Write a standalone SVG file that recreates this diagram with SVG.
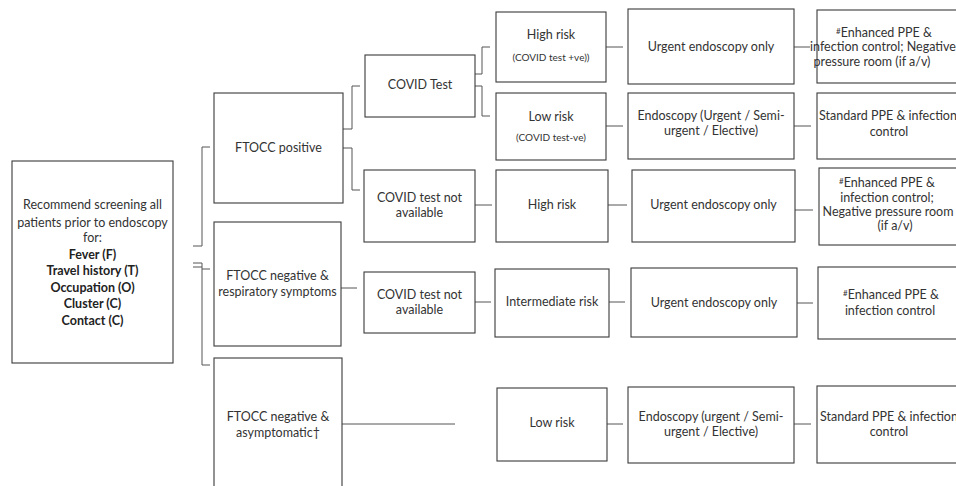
<svg xmlns="http://www.w3.org/2000/svg" width="956" height="486" viewBox="0 0 956 486">
<style>
rect.n{fill:#fff;stroke:#3a3a3a;stroke-width:1.1}
text{font-family:Lato,"Liberation Sans",sans-serif;font-size:12.5px;fill:#333;text-anchor:middle}
text.b{font-weight:bold;fill:#222}
text.s{font-size:10px}
#connectors path{fill:none;stroke:#555;stroke-width:1}
</style>
<rect width="956" height="486" fill="#fff"/>
<g id="connectors">
<path d="M193,246 H202 V147 H210"/>
<path d="M193,263 H202 V365 H210"/>
<path d="M193,267 H202"/>
<path d="M202,269 H210"/>
<path d="M343,129 H352 V86 H360"/>
<path d="M343,148 H352 V190 H360"/>
<path d="M475,74 H482 V47 H490"/>
<path d="M475,86 H482 V116 H490"/>
<path d="M606,47 H623"/>
<path d="M794,47 H810"/>
<path d="M606,126 H623"/>
<path d="M794,126 H811"/>
<path d="M475,205 H492"/>
<path d="M608,205 H627"/>
<path d="M795,210 H813"/>
<path d="M341,288 H357"/>
<path d="M475,302 H491"/>
<path d="M609,302 H625"/>
<path d="M797,303 H813"/>
<path d="M342,424 H455"/>
<path d="M607,424 H623"/>
<path d="M794,424 H811"/>
</g>
<g id="screening">
<rect class="n" x="12" y="161" width="161" height="202"/>
<text x="92.5" y="209">Recommend screening all</text>
<text x="92.5" y="227">patients prior to endoscopy</text>
<text x="92.5" y="242">for:</text>
<text class="b" x="92.5" y="259">Fever (F)</text>
<text class="b" x="92.5" y="275">Travel history (T)</text>
<text class="b" x="92.5" y="292">Occupation (O)</text>
<text class="b" x="92.5" y="308">Cluster (C)</text>
<text class="b" x="92.5" y="325">Contact (C)</text>
</g>
<g id="ftocc_pos">
<rect class="n" x="214" y="93" width="129" height="110"/>
<text x="278.5" y="152">FTOCC positive</text>
</g>
<g id="ftocc_resp">
<rect class="n" x="214" y="222" width="127" height="124"/>
<text x="277.5" y="280">FTOCC negative &amp;</text>
<text x="277.5" y="296">respiratory symptoms</text>
</g>
<g id="ftocc_asym">
<rect class="n" x="214" y="358" width="128" height="140"/>
<text x="278" y="421">FTOCC negative &amp;</text>
<text x="278" y="437">asymptomatic†</text>
</g>
<g id="covid_test">
<rect class="n" x="365" y="55" width="110" height="62"/>
<text x="420" y="89">COVID Test</text>
</g>
<g id="covid_na1">
<rect class="n" x="364" y="170" width="111" height="72"/>
<text x="419.5" y="202">COVID test not</text>
<text x="419.5" y="217">available</text>
</g>
<g id="covid_na2">
<rect class="n" x="364" y="272" width="111" height="61"/>
<text x="419.5" y="299">COVID test not</text>
<text x="419.5" y="314">available</text>
</g>
<g id="high1">
<rect class="n" x="496" y="12" width="110" height="70"/>
<text x="551" y="39">High risk</text>
<text class="s" x="551" y="61">(COVID test +ve))</text>
</g>
<g id="low1">
<rect class="n" x="496" y="93" width="110" height="67"/>
<text x="551" y="121">Low risk</text>
<text class="s" x="551" y="141">(COVID test-ve)</text>
</g>
<g id="high2">
<rect class="n" x="496" y="170" width="112" height="72"/>
<text x="552" y="209">High risk</text>
</g>
<g id="intermediate">
<rect class="n" x="495" y="269" width="114" height="68"/>
<text x="552" y="306">Intermediate risk</text>
</g>
<g id="low2">
<rect class="n" x="497" y="388" width="110" height="73"/>
<text x="552" y="427">Low risk</text>
</g>
<g id="urgent1">
<rect class="n" x="628" y="9" width="166" height="75"/>
<text x="711" y="51">Urgent endoscopy only</text>
</g>
<g id="endo1">
<rect class="n" x="628" y="93" width="166" height="66"/>
<text x="711" y="120">Endoscopy (Urgent / Semi-</text>
<text x="711" y="135">urgent / Elective)</text>
</g>
<g id="urgent2">
<rect class="n" x="632" y="170" width="163" height="72"/>
<text x="713.5" y="209">Urgent endoscopy only</text>
</g>
<g id="urgent3">
<rect class="n" x="631" y="268" width="166" height="69"/>
<text x="714" y="307">Urgent endoscopy only</text>
</g>
<g id="endo2">
<rect class="n" x="628" y="387" width="166" height="76"/>
<text x="711" y="421">Endoscopy (urgent / Semi-</text>
<text x="711" y="436">urgent / Elective)</text>
</g>
<g id="ppe1">
<rect class="n" x="817" y="10" width="150" height="73"/>
<text x="884" y="37"><tspan font-size="8" dy="-3">#</tspan><tspan dy="3">Enhanced PPE &amp;</tspan></text>
<text x="883" y="51">infection control; Negative</text>
<text x="872" y="66">pressure room (if a/v)</text>
</g>
<g id="ppe2">
<rect class="n" x="817" y="93" width="150" height="66"/>
<text x="888" y="120">Standard PPE &amp; infection</text>
<text x="889" y="136">control</text>
</g>
<g id="ppe3">
<rect class="n" x="819" y="168" width="150" height="77"/>
<text x="887" y="187"><tspan font-size="8" dy="-3">#</tspan><tspan dy="3">Enhanced PPE &amp;</tspan></text>
<text x="887" y="202">infection control;</text>
<text x="888" y="216">Negative pressure room</text>
<text x="895" y="230">(if a/v)</text>
</g>
<g id="ppe4">
<rect class="n" x="818" y="267" width="150" height="72"/>
<text x="891" y="299"><tspan font-size="8" dy="-3">#</tspan><tspan dy="3">Enhanced PPE &amp;</tspan></text>
<text x="890" y="315">infection control</text>
</g>
<g id="ppe5">
<rect class="n" x="817" y="386" width="150" height="77"/>
<text x="889" y="421">Standard PPE &amp; infection</text>
<text x="889" y="436">control</text>
</g>
</svg>
